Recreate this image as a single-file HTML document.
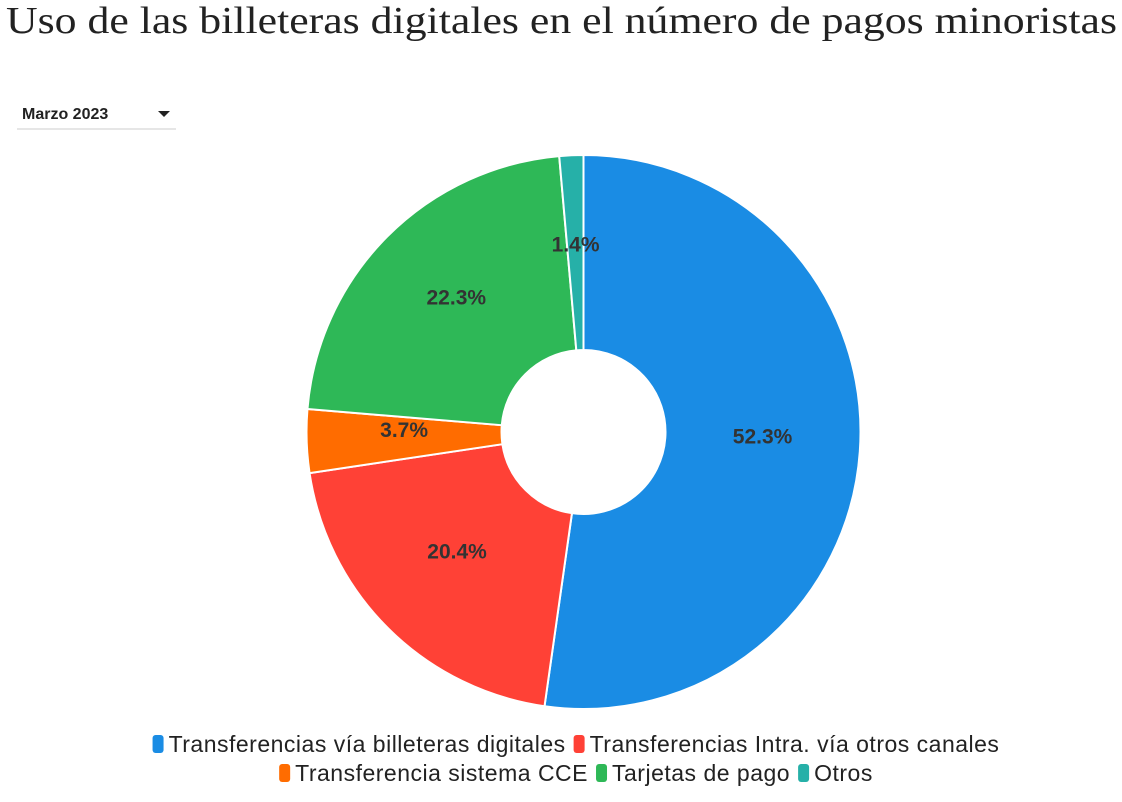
<!DOCTYPE html>
<html><head><meta charset="utf-8"><style>
body{margin:0;width:1122px;height:797px;background:#fff;overflow:hidden;font-family:"Liberation Sans",sans-serif}
</style></head><body>
<svg width="1122" height="797">
<text x="6" y="33" font-family="Liberation Serif,serif" font-size="38" fill="#222" textLength="1111" lengthAdjust="spacingAndGlyphs">Uso de las billeteras digitales en el número de pagos minoristas</text>
<g>
<text x="22" y="119" font-size="16" font-weight="bold" fill="#222">Marzo 2023</text>
<path d="M158 111 L170 111 L164 117 Z" fill="#222"/>
<line x1="17" y1="129" x2="176" y2="129" stroke="#ccc" stroke-width="1"/>
</g>
<g id="pie"></g>
<g id="legend" font-size="23" letter-spacing="0.5" fill="#222"></g>
</svg>
<script>
const categories=["Transferencias vía billeteras digitales","Transferencias Intra. vía otros canales","Transferencia sistema CCE","Tarjetas de pago","Otros"];
const values=[52.3,20.4,3.7,22.3,1.4];
const colors=["#1a8ce4","#ff4136","#ff6c00","#2eb857","#26b0a8"];
const cx=583.5,cy=432,R=277,r=82,NS="http://www.w3.org/2000/svg";
const pie=document.getElementById('pie');
const total=values.reduce((a,b)=>a+b,0);
function pt(a,rad){return [cx+rad*Math.sin(a),cy-rad*Math.cos(a)];}
let acc=0;
values.forEach((v,i)=>{
 const a0=acc/total*2*Math.PI;acc+=v;const a1=acc/total*2*Math.PI;
 const lg=a1-a0>Math.PI?1:0;
 const [x0,y0]=pt(a0,R),[x1,y1]=pt(a1,R),[x2,y2]=pt(a1,r),[x3,y3]=pt(a0,r);
 const p=document.createElementNS(NS,'path');
 p.setAttribute('d',`M${x0} ${y0} A${R} ${R} 0 ${lg} 1 ${x1} ${y1} L${x2} ${y2} A${r} ${r} 0 ${lg} 0 ${x3} ${y3} Z`);
 p.setAttribute('fill',colors[i]);p.setAttribute('stroke','#fff');p.setAttribute('stroke-width','2');
 
 
 pie.appendChild(p);
 const [lx,ly]=pt((a0+a1)/2,(R+r)/2);
 const t=document.createElementNS(NS,'text');
 t.setAttribute('x',lx);t.setAttribute('y',ly-1);t.setAttribute('text-anchor','middle');
 t.setAttribute('font-size','21');t.setAttribute('font-weight','bold');t.setAttribute('fill','#333');
 t.textContent=v.toFixed(1)+'%';
 
 
 pie.appendChild(t);
});
const lg=document.getElementById('legend');
const rows=[[0,1],[2,3,4]],rowY=[744,773];
rows.forEach((row,ri)=>{
 const items=[];let w=0;
 row.forEach(i=>{const t=document.createElementNS(NS,'text');t.textContent=categories[i];lg.appendChild(t);const tw=t.getComputedTextLength();items.push([i,t,tw]);w+=16+tw+8;});
 w-=8;let x=576-w/2;
 items.forEach(([i,t,tw])=>{
  const g=document.createElementNS(NS,'g');
  
  
  const rc=document.createElementNS(NS,'rect');
  rc.setAttribute('x',x);rc.setAttribute('y',rowY[ri]-9);rc.setAttribute('width',11);rc.setAttribute('height',18);rc.setAttribute('rx',3);rc.setAttribute('fill',colors[i]);
  g.appendChild(rc);
  t.setAttribute('x',x+16);t.setAttribute('y',rowY[ri]+8);
  g.appendChild(t);lg.appendChild(g);
  x+=16+tw+8;
 });
});
</script>
</body></html>
